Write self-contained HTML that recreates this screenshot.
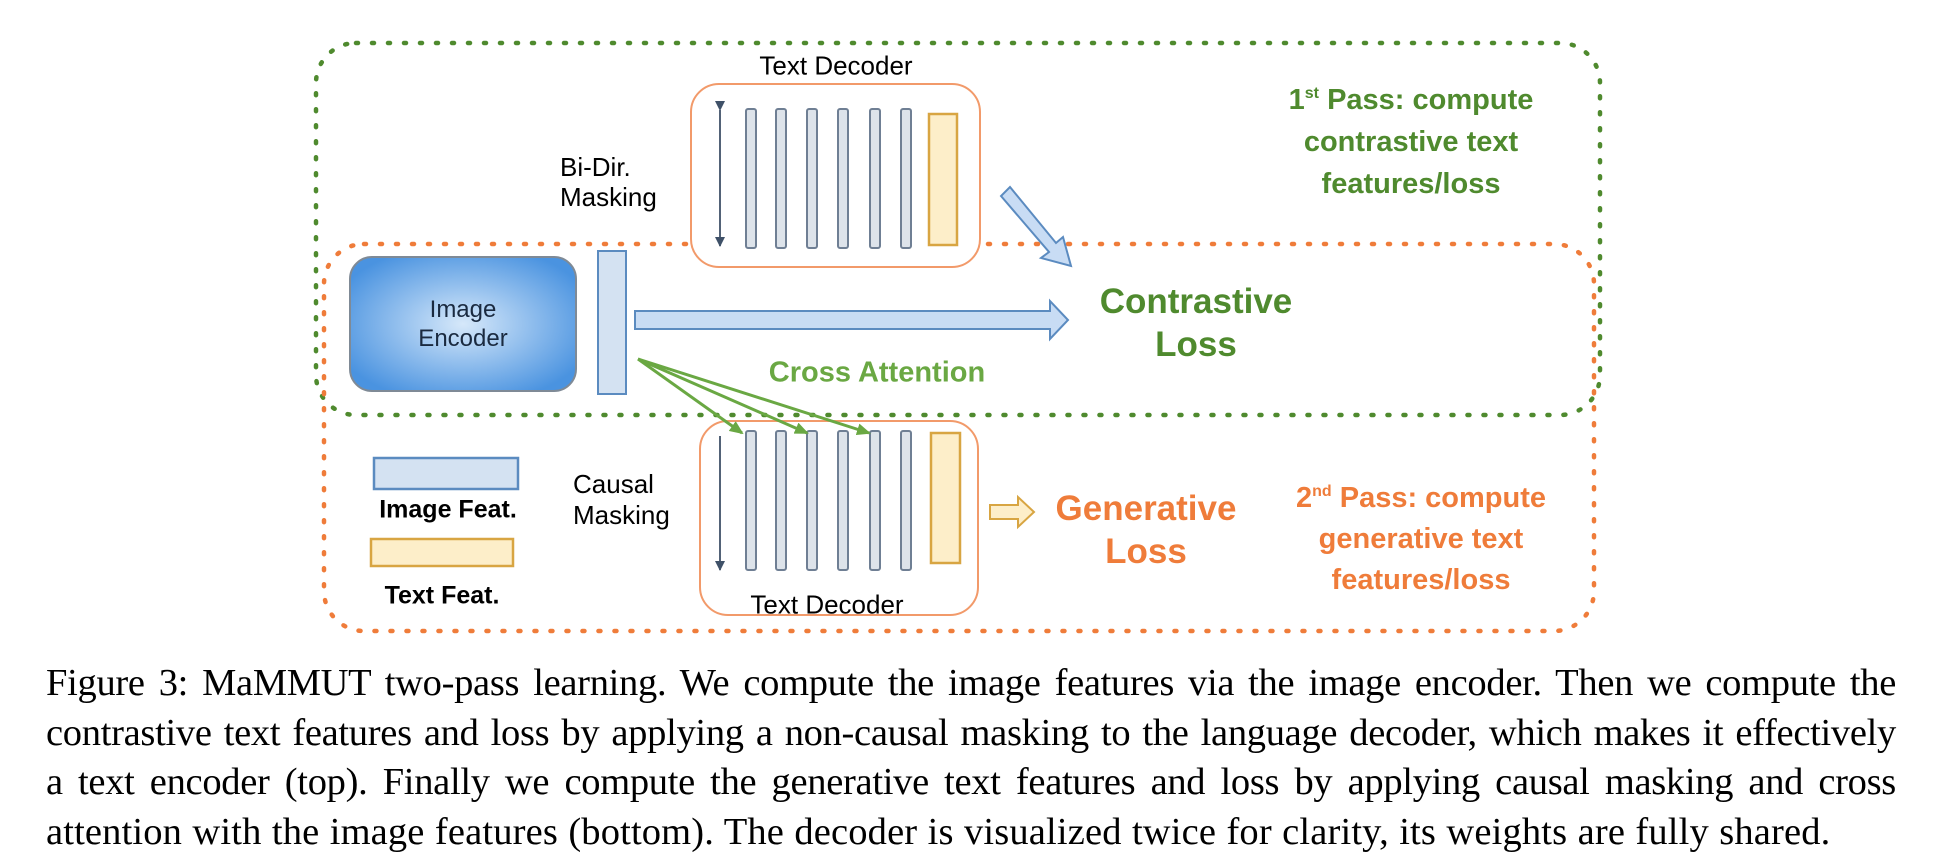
<!DOCTYPE html>
<html><head><meta charset="utf-8"><style>
body{margin:0;width:1941px;height:868px;background:#fff;overflow:hidden;position:relative;font-family:"Liberation Sans",sans-serif}
.t{position:absolute;white-space:nowrap;transform:translate(-50%,-50%);text-align:center}
.l{position:absolute;white-space:nowrap;transform:translateY(-50%)}
.cap{position:absolute;left:46px;top:659px;width:1850px;font-family:"Liberation Serif",serif;font-size:38.5px;letter-spacing:-0.3px;line-height:49.5px;color:#000}
.cap div{text-align:justify;text-align-last:justify;white-space:nowrap}
.cap div.last{text-align-last:left;letter-spacing:0.15px;word-spacing:0.6px}
</style></head><body>
<svg width="1941" height="868" style="position:absolute;left:0;top:0">
<defs>
<radialGradient id="g" cx="50%" cy="50%" r="60%"><stop offset="0" stop-color="#d6e8fa"/><stop offset="1" stop-color="#4a93e0"/></radialGradient>
<marker id="ga" markerWidth="14" markerHeight="12" refX="12" refY="6" orient="auto" markerUnits="userSpaceOnUse"><path d="M0,0 L14,6 L0,12z" fill="#6aa843"/></marker>
<marker id="da" markerWidth="10" markerHeight="14" refX="9" refY="5" orient="auto" markerUnits="userSpaceOnUse"><path d="M0,0 L10,5 L0,10z" fill="#3f5168"/></marker>
</defs>
<rect x="316" y="43" width="1284" height="372" rx="40" fill="none" stroke="#4f8a2e" stroke-width="4.5" stroke-dasharray="2 14" stroke-linecap="round"/>
<rect x="324" y="244" width="1270" height="387" rx="40" fill="none" stroke="#ef7c3a" stroke-width="4.5" stroke-dasharray="2 14" stroke-linecap="round"/>
<rect x="691" y="84" width="289" height="183" rx="28" fill="#fff" stroke="#f29a6a" stroke-width="2"/>
<rect x="700" y="421" width="278" height="194" rx="28" fill="#fff" stroke="#f29a6a" stroke-width="2"/>
<g fill="#dde3ea" stroke="#6f7f94" stroke-width="2">
<rect x="746" y="109" width="10" height="139" rx="2"/><rect x="776" y="109" width="10" height="139" rx="2"/><rect x="807" y="109" width="10" height="139" rx="2"/><rect x="838" y="109" width="10" height="139" rx="2"/><rect x="870" y="109" width="10" height="139" rx="2"/><rect x="901" y="109" width="10" height="139" rx="2"/>
<rect x="746" y="431" width="10" height="139" rx="2"/><rect x="776" y="431" width="10" height="139" rx="2"/><rect x="807" y="431" width="10" height="139" rx="2"/><rect x="838" y="431" width="10" height="139" rx="2"/><rect x="870" y="431" width="10" height="139" rx="2"/><rect x="901" y="431" width="10" height="139" rx="2"/>
</g>
<rect x="929" y="114" width="28" height="131" fill="#fdeec9" stroke="#d8a542" stroke-width="2.5"/>
<rect x="931" y="433" width="29" height="130" fill="#fdeec9" stroke="#d8a542" stroke-width="2.5"/>
<line x1="720" y1="110" x2="720" y2="246" stroke="#3f5168" stroke-width="1.8" marker-start="url(#da)" marker-end="url(#da)"/>
<line x1="720" y1="436" x2="720" y2="570" stroke="#3f5168" stroke-width="1.8" marker-end="url(#da)"/>
<rect x="350" y="257" width="226" height="134" rx="22" fill="url(#g)" stroke="#7f8a96" stroke-width="2"/>
<rect x="598" y="251" width="28" height="143" fill="#d4e2f2" stroke="#5b8bc0" stroke-width="2"/>
<path d="M635,311 L1050,311 L1050,301 L1068,320 L1050,339 L1050,329 L635,329z" fill="#c8dcf4" stroke="#5b8bc0" stroke-width="2"/>
<path d="M1001,196 L1049,252 L1041,258 L1071,266 L1063,237 L1056,243 L1010,187z" fill="#c8dcf4" stroke="#5b8bc0" stroke-width="2"/>
<path d="M990,505 L1018,505 L1018,497 L1034,512 L1018,527 L1018,519 L990,519z" fill="#fdeec9" stroke="#d8a542" stroke-width="2"/>
<g stroke="#6aa843" stroke-width="3" fill="none">
<line x1="638" y1="359" x2="742" y2="433" marker-end="url(#ga)"/>
<line x1="638" y1="359" x2="807" y2="433" marker-end="url(#ga)"/>
<line x1="638" y1="359" x2="869" y2="433" marker-end="url(#ga)"/>
</g>
<rect x="374" y="458" width="144" height="31" fill="#d4e2f2" stroke="#5b8bc0" stroke-width="2.5"/>
<rect x="371" y="539" width="142" height="27" fill="#fdeec9" stroke="#d8a542" stroke-width="2.5"/>
</svg>
<div class="t" style="left:836px;top:66px;font-size:26px">Text Decoder</div>
<div class="t" style="left:827px;top:605px;font-size:26px">Text Decoder</div>
<div class="l" style="left:560px;top:182px;font-size:26px;line-height:30px">Bi-Dir.<br>Masking</div>
<div class="l" style="left:573px;top:500px;font-size:26px;line-height:31px">Causal<br>Masking</div>
<div class="t" style="left:463px;top:324px;font-size:24px;line-height:29px;color:#1a2a40">Image<br>Encoder</div>
<div class="t" style="left:1196px;top:323px;font-size:35px;line-height:43px;font-weight:bold;color:#4f8a2e">Contrastive<br>Loss</div>
<div class="t" style="left:877px;top:373px;font-size:29px;font-weight:bold;color:#6aa843">Cross Attention</div>
<div class="t" style="left:1146px;top:530px;font-size:35px;line-height:43px;font-weight:bold;color:#ef7c3a">Generative<br>Loss</div>
<div class="t" style="left:1411px;top:139px;font-size:29px;line-height:42px;font-weight:bold;color:#4f8a2e">1<sup style="font-size:16px">st</sup> Pass: compute<br>contrastive text<br>features/loss</div>
<div class="t" style="left:1421px;top:536px;font-size:29px;line-height:41px;font-weight:bold;color:#ef7c3a">2<sup style="font-size:16px">nd</sup> Pass: compute<br>generative text<br>features/loss</div>
<div class="t" style="left:448px;top:510px;font-size:25px;font-weight:bold">Image Feat.</div>
<div class="t" style="left:442px;top:596px;font-size:25px;font-weight:bold">Text Feat.</div>
<div class="cap">
<div>Figure 3: MaMMUT two-pass learning. We compute the image features via the image encoder. Then we compute the</div>
<div>contrastive text features and loss by applying a non-causal masking to the language decoder, which makes it effectively</div>
<div>a text encoder (top). Finally we compute the generative text features and loss by applying causal masking and cross</div>
<div class="last">attention with the image features (bottom). The decoder is visualized twice for clarity, its weights are fully shared.</div>
</div>
</body></html>
